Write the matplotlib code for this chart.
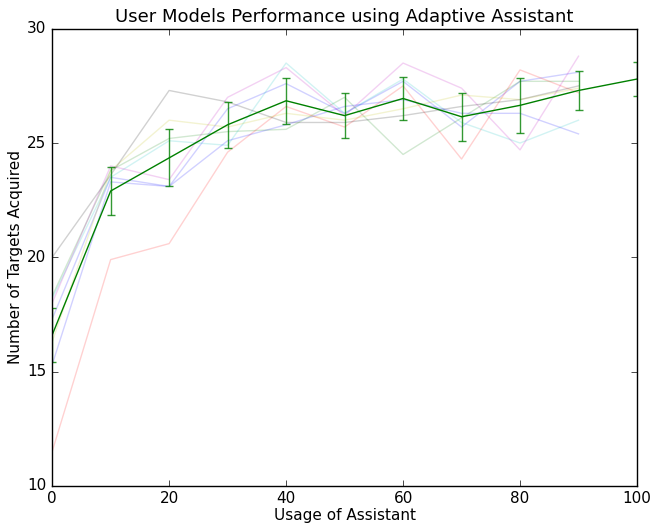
import numpy as np
import matplotlib
matplotlib.use('Agg')
import matplotlib.pyplot as plt

plt.style.use('classic')

usage = [0, 10, 20, 30, 40, 50, 60, 70, 80, 90]

# individual user models (faint lines)
model_b1 = [17.3, 23.5, 23.1, 26.5, 27.6, 26.3, 27.7, 25.7, 27.7, 28.1]
model_g = [18.3, 23.8, 25.2, 25.5, 25.6, 27.0, 24.5, 26.1, 27.7, 27.7]
model_r = [11.5, 19.9, 20.6, 24.6, 26.6, 25.7, 27.5, 24.3, 28.2, 27.2]
model_c = [18.2, 23.5, 25.1, 24.9, 28.5, 26.3, 27.8, 25.9, 25.0, 26.0]
model_m = [18.0, 24.0, 23.4, 27.0, 28.3, 26.2, 28.5, 27.4, 24.7, 28.8]
model_y = [16.3, 23.8, 26.0, 25.7, 26.3, 26.0, 26.5, 27.1, 26.9, 27.4]
model_k = [20.0, 23.6, 27.3, 26.8, 25.9, 25.9, 26.2, 26.6, 26.9, 27.5]
model_b2 = [15.3, 23.3, 23.1, 25.1, 25.8, 26.6, 26.9, 26.3, 26.3, 25.4]

models = [model_b1, model_g, model_r, model_c, model_m, model_y, model_k, model_b2]
colors = ['b', 'g', 'r', 'c', 'm', 'y', 'k', 'b']

# average performance with error bars
usage_mean = [0, 10, 20, 30, 40, 50, 60, 70, 80, 90, 100]
mean_targets = [16.6, 22.9, 24.35, 25.8, 26.85, 26.2, 26.95, 26.15, 26.65, 27.3, 27.8]
mean_err = [1.2, 1.05, 1.25, 1.0, 1.0, 1.0, 0.95, 1.05, 1.2, 0.85, 0.75]

fig = plt.figure(figsize=(6.52, 5.23), dpi=100, facecolor='white')
ax = fig.add_axes([0.08, 0.071, 0.897, 0.874])

for vals, col in zip(models, colors):
    ax.plot(usage, vals, color=col, alpha=0.18, linewidth=1)

line, caps, bars = ax.errorbar(usage_mean, mean_targets, yerr=mean_err, color='g',
                               linewidth=1, capsize=3, elinewidth=1, ecolor='g')
for c in caps:
    c.set_markeredgecolor('g')
    c.set_markeredgewidth(1)
    c.set_alpha(0.8)
for b in bars:
    b.set_alpha(0.8)

ax.set_xlim(0, 100)
ax.set_ylim(10, 30)
ax.set_xticks([0, 20, 40, 60, 80, 100])
ax.set_yticks([10, 15, 20, 25, 30])
ax.tick_params(labelsize=11)
ax.set_title("User Models Performance using Adaptive Assistant", fontsize=13)
ax.set_xlabel("Usage of Assistant", fontsize=11, labelpad=1)
ax.set_ylabel("Number of Targets Acquired", fontsize=11, labelpad=3)

plt.savefig("out.png", dpi=100, facecolor='white')
